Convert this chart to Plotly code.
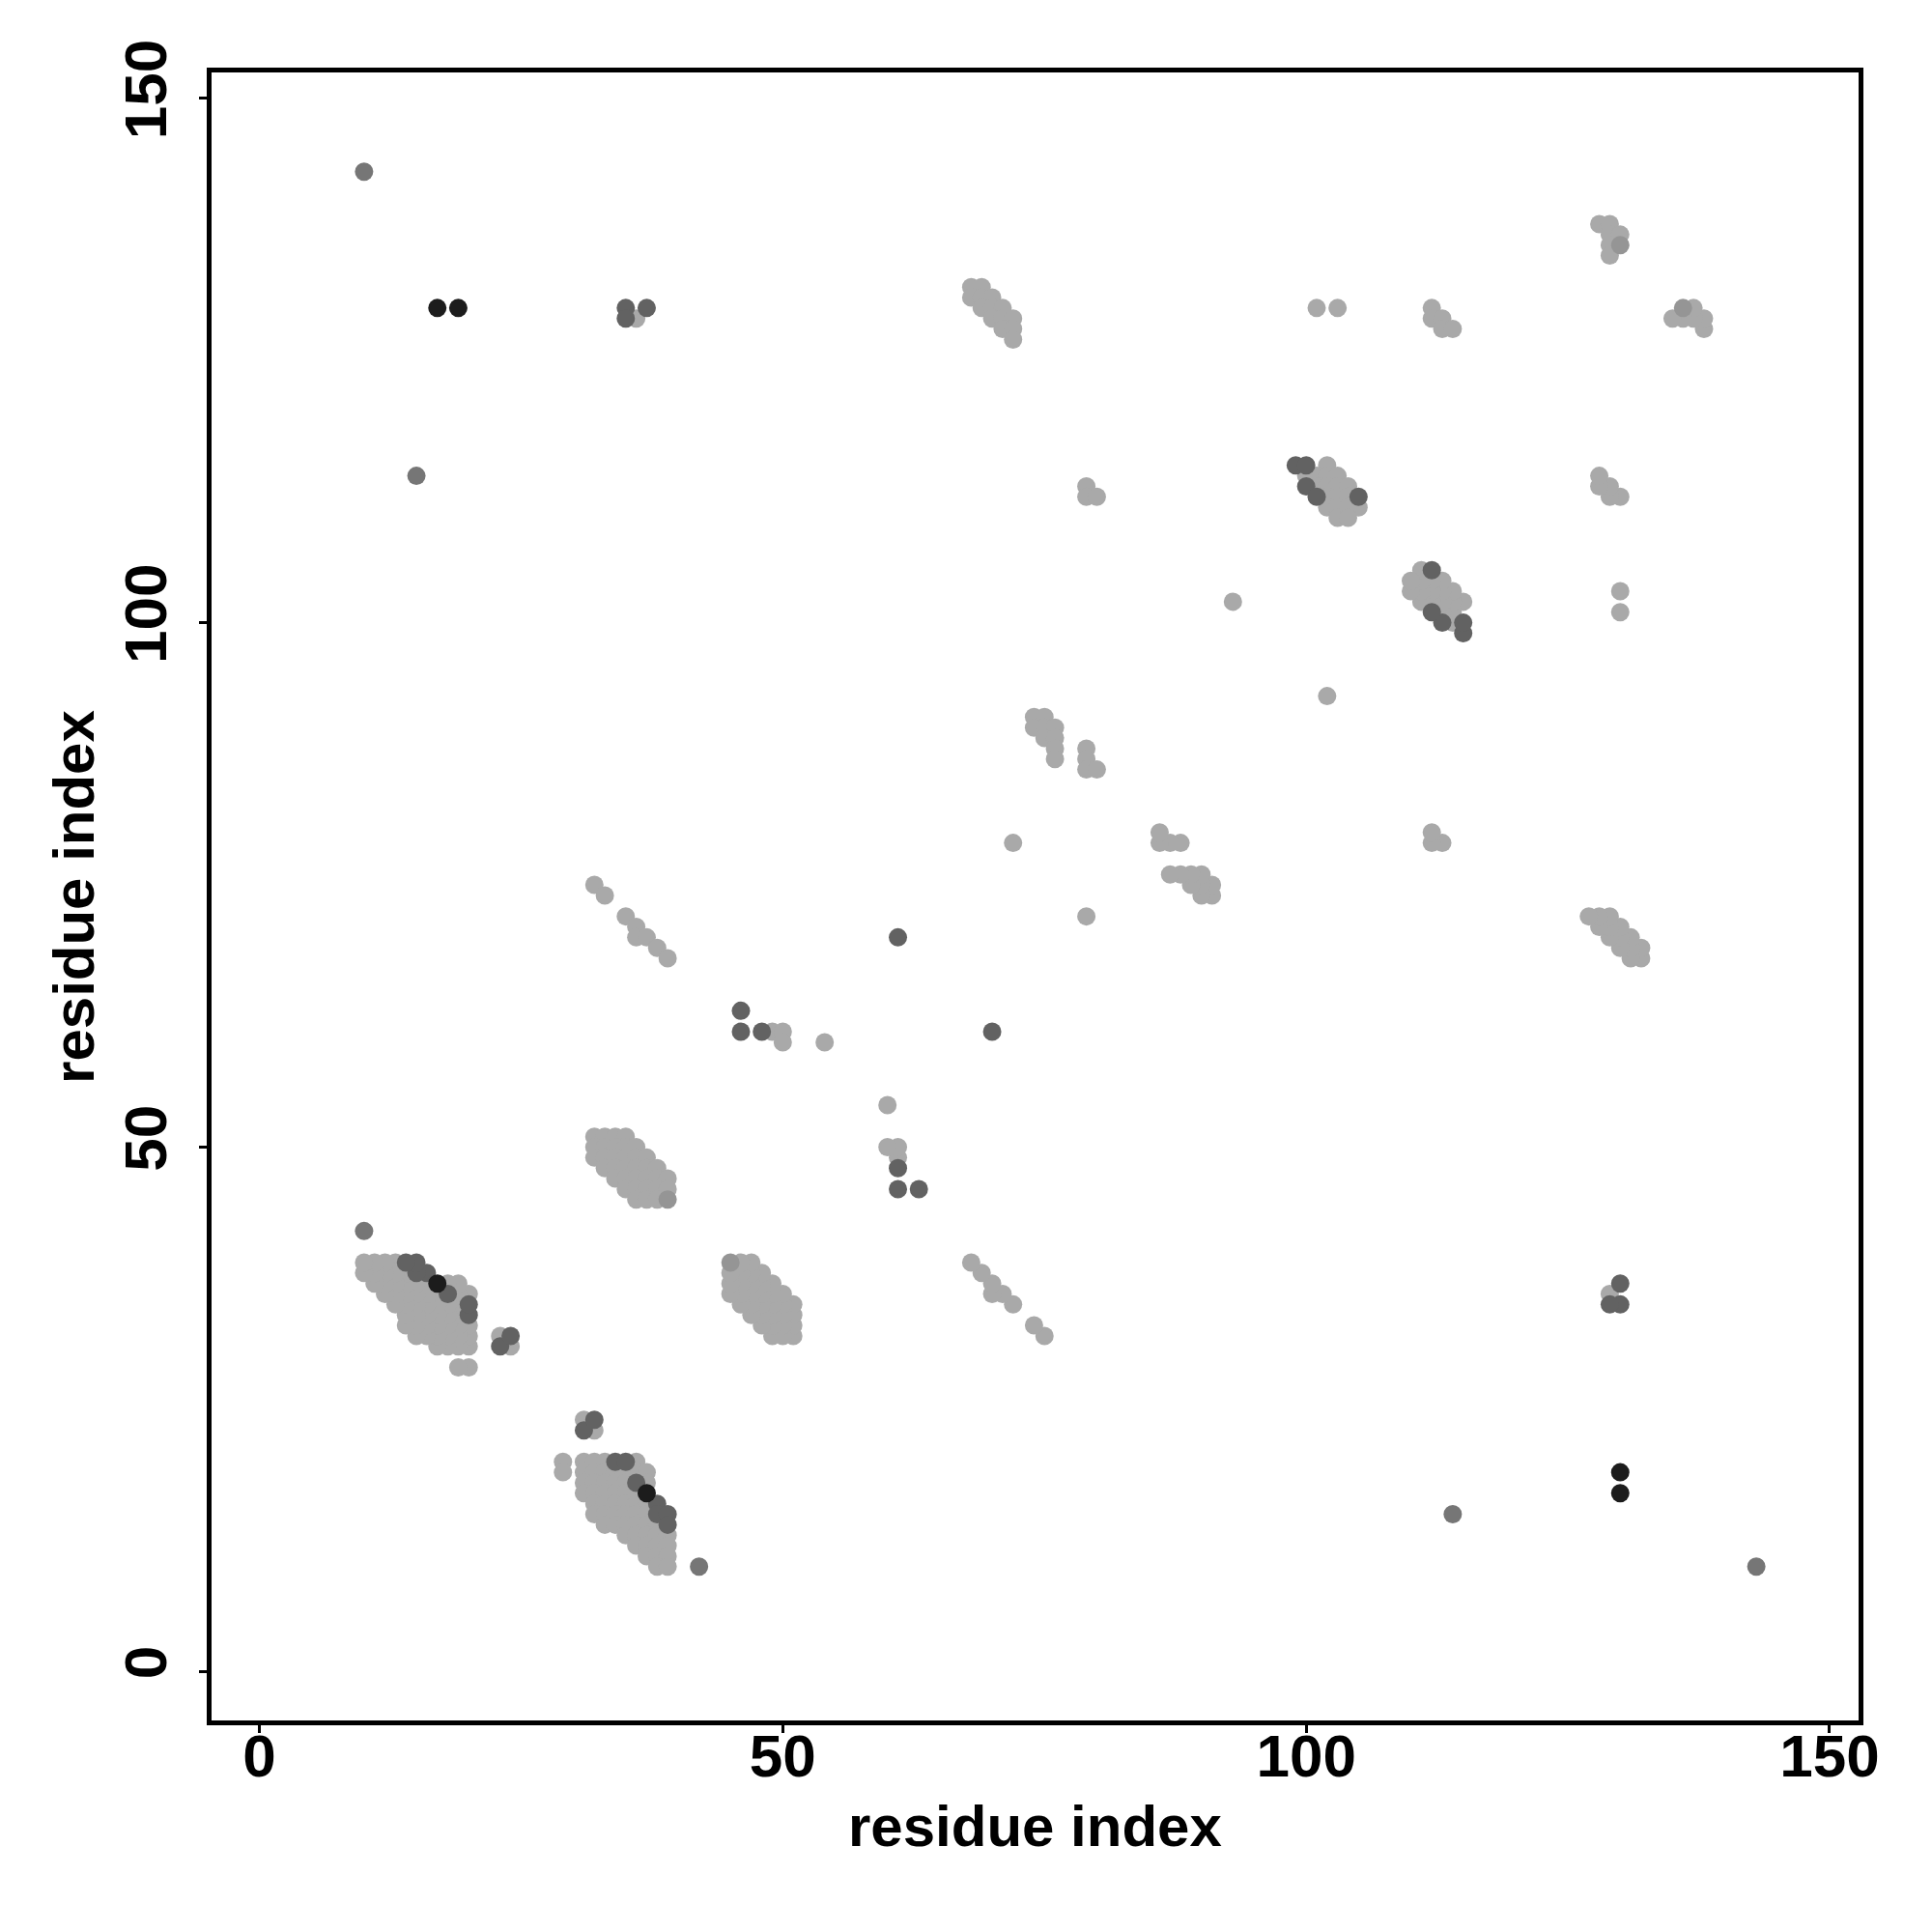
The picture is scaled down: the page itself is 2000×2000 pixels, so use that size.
import plotly.graph_objects as go

# Contact list for the symmetric contact map: (residue_i, residue_j, shade); i < j.
# shade codes: L light grey, M mid grey, G grey, D dark grey, K black
sheet_a = [
    (20, 29, 'L'), (20, 31, 'L'), (20, 32, 'L'), (20, 33, 'L'), (20, 34, 'D'), (20, 35, 'D'), (20, 36, 'L'),
    (19, 29, 'L'), (19, 31, 'L'), (19, 32, 'L'), (19, 33, 'L'), (19, 34, 'L'), (19, 35, 'L'), (19, 36, 'L'), (19, 37, 'L'),
    (18, 31, 'L'), (18, 32, 'L'), (18, 33, 'L'), (18, 34, 'L'), (18, 35, 'L'), (18, 36, 'D'), (18, 37, 'L'),
    (17, 31, 'L'), (17, 32, 'L'), (17, 33, 'L'), (17, 34, 'L'), (17, 35, 'L'), (17, 36, 'L'), (17, 37, 'K'),
    (16, 32, 'L'), (16, 33, 'L'), (16, 34, 'L'), (16, 35, 'L'), (16, 36, 'L'), (16, 37, 'L'), (16, 38, 'D'),
    (15, 32, 'L'), (15, 33, 'L'), (15, 34, 'L'), (15, 35, 'L'), (15, 36, 'L'), (15, 37, 'L'), (15, 38, 'D'), (15, 39, 'D'),
    (14, 33, 'L'), (14, 34, 'L'), (14, 35, 'L'), (14, 36, 'L'), (14, 37, 'L'), (14, 38, 'L'), (14, 39, 'D'),
    (13, 35, 'L'), (13, 36, 'L'), (13, 37, 'L'), (13, 38, 'L'), (13, 39, 'L'),
    (12, 36, 'L'), (12, 37, 'L'), (12, 38, 'L'), (12, 39, 'L'),
    (11, 37, 'L'), (11, 38, 'L'), (11, 39, 'L'),
    (10, 38, 'L'), (10, 39, 'L'),
]
sheet_a_extra = [
    (23, 31, 'D'), (23, 32, 'L'), (24, 31, 'L'), (24, 32, 'D'), (10, 42, 'G'),
]
sheet_c = [
    (32, 51, 'L'), (33, 51, 'L'), (34, 51, 'L'), (35, 51, 'L'),
    (32, 50, 'L'), (33, 50, 'L'), (34, 50, 'L'), (35, 50, 'L'), (36, 50, 'L'),
    (32, 49, 'L'), (33, 49, 'L'), (34, 49, 'L'), (35, 49, 'L'), (36, 49, 'L'), (37, 49, 'L'),
    (33, 48, 'L'), (34, 48, 'L'), (35, 48, 'L'), (36, 48, 'L'), (37, 48, 'L'), (38, 48, 'L'),
    (34, 47, 'L'), (35, 47, 'L'), (36, 47, 'L'), (37, 47, 'L'), (38, 47, 'L'), (39, 47, 'L'),
    (35, 46, 'L'), (36, 46, 'L'), (37, 46, 'L'), (38, 46, 'L'), (39, 46, 'L'),
    (36, 45, 'L'), (37, 45, 'L'), (38, 45, 'L'), (39, 45, 'M'),
]
strand_line = [
    (32, 75, 'L'), (33, 74, 'L'), (35, 72, 'L'), (36, 71, 'L'), (36, 70, 'L'),
    (37, 70, 'L'), (38, 69, 'L'), (39, 68, 'L'),
]
patch_mid = [
    (46, 63, 'D'), (46, 61, 'D'), (48, 61, 'D'), (49, 61, 'L'), (50, 61, 'L'),
    (50, 60, 'L'), (54, 60, 'L'), (61, 70, 'D'),
]
patch_70s = [
    (68, 132, 'L'), (69, 132, 'L'), (68, 131, 'L'), (69, 131, 'L'), (70, 131, 'L'),
    (69, 130, 'L'), (70, 130, 'L'), (71, 130, 'L'), (70, 129, 'L'), (71, 129, 'L'),
    (72, 129, 'L'), (71, 128, 'L'), (72, 128, 'L'), (72, 127, 'L'),
]
patch_80s = [
    (74, 91, 'L'), (75, 91, 'L'), (74, 90, 'L'), (75, 90, 'L'), (76, 90, 'L'),
    (75, 89, 'L'), (76, 89, 'L'), (76, 88, 'L'), (76, 87, 'L'),
    (79, 88, 'L'), (79, 87, 'L'), (79, 86, 'L'), (80, 86, 'L'),
    (72, 79, 'L'), (93, 102, 'L'),
    (79, 113, 'L'), (79, 112, 'L'), (80, 112, 'L'),
]
sheet_e = [
    (99, 115, 'D'), (100, 115, 'D'), (102, 115, 'L'),
    (100, 114, 'L'), (101, 114, 'L'), (102, 114, 'L'), (103, 114, 'L'),
    (100, 113, 'D'), (101, 113, 'L'), (102, 113, 'L'), (103, 113, 'L'), (104, 113, 'L'),
    (101, 112, 'D'), (102, 112, 'L'), (103, 112, 'L'), (104, 112, 'L'), (105, 112, 'D'),
    (102, 111, 'L'), (103, 111, 'L'), (104, 111, 'L'), (105, 111, 'L'),
    (103, 110, 'L'), (104, 110, 'L'),
]
patch_130s = [
    (101, 130, 'L'), (103, 130, 'L'),
    (112, 130, 'L'), (112, 129, 'L'), (113, 129, 'L'), (113, 128, 'L'), (114, 128, 'L'),
    (128, 138, 'L'), (129, 138, 'L'), (129, 137, 'L'), (130, 137, 'L'),
    (129, 136, 'L'), (130, 136, 'M'), (129, 135, 'L'),
]
long_range = [
    (10, 143, 'G'), (15, 114, 'G'),
    (17, 130, 'K'), (19, 130, 'K'),
    (35, 130, 'D'), (37, 130, 'D'), (35, 129, 'D'), (36, 129, 'L'),
]

tick_values = [0, 50, 100, 150]
tick_labels = ['0', '50', '100', '150']
axis_label = 'residue index'

shade_colors = {'L': '#a9a9a9', 'M': '#959595', 'G': '#767676', 'D': '#626262', 'K': '#1c1c1c'}
shade_order = ['L', 'M', 'G', 'D', 'K']

contacts = (sheet_a + sheet_a_extra + sheet_c + strand_line + patch_mid + patch_70s
            + patch_80s + sheet_e + patch_130s + long_range)

fig = go.Figure()
for shade in shade_order:
    sel = [c for c in contacts if c[2] == shade]
    if not sel:
        continue
    xs = [c[0] for c in sel] + [c[1] for c in sel]
    ys = [c[1] for c in sel] + [c[0] for c in sel]
    fig.add_trace(go.Scatter(
        x=xs, y=ys, mode='markers',
        marker=dict(size=19, color=shade_colors[shade], line=dict(width=0)),
        showlegend=False, hoverinfo='skip'))

font_family = 'Liberation Sans, Arial, Helvetica, sans-serif'
axis_common = dict(
    tickvals=tick_values, ticktext=tick_labels,
    showgrid=False, zeroline=False, showline=True, mirror=True, linecolor='black', linewidth=5,
    ticks='outside', ticklen=8, tickwidth=3, tickcolor='black',
    tickfont=dict(family=font_family, size=62, color='black', weight='bold'),
)
fig.update_layout(
    width=2000, height=2000,
    paper_bgcolor='white', plot_bgcolor='white',
    margin=dict(l=211, r=84, t=67, b=227),
    xaxis=dict(**axis_common, range=[-4.57, 152.77], ticklabelstandoff=-29),
    yaxis=dict(**axis_common, range=[-4.66, 152.46], tickangle=-90, ticklabelstandoff=9),
    annotations=[
        dict(text=axis_label, xref='paper', yref='paper', x=0.5, y=-0.0639,
             xanchor='center', yanchor='middle', showarrow=False,
             font=dict(family=font_family, size=60, color='black', weight='bold')),
        dict(text=axis_label, xref='paper', yref='paper', x=-0.0839, y=0.5,
             xanchor='center', yanchor='middle', showarrow=False, textangle=-90,
             font=dict(family=font_family, size=60, color='black', weight='bold')),
    ],
)
fig.write_html('out.html')
